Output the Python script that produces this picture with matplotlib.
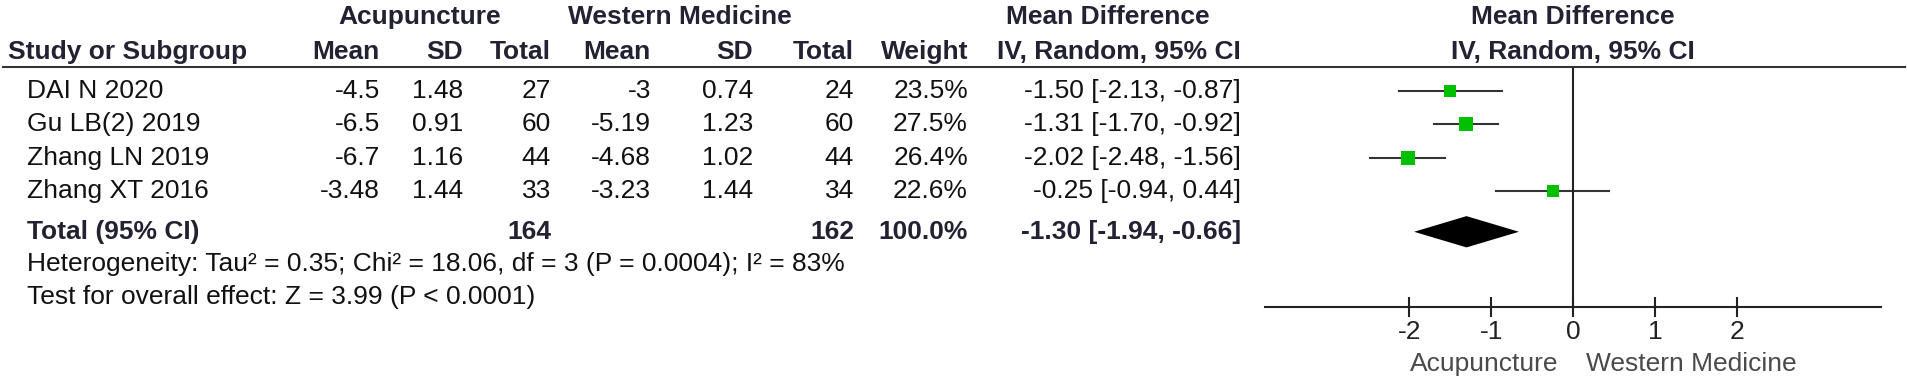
import matplotlib
matplotlib.use("Agg")
import matplotlib.pyplot as plt
from matplotlib.lines import Line2D
from matplotlib.transforms import blended_transform_factory

plt.rcParams["font.family"] = ["Liberation Sans Narrow", "Liberation Sans", "DejaVu Sans"]
plt.rcParams["axes.unicode_minus"] = False

# data
studies = ["DAI N 2020", "Gu LB(2) 2019", "Zhang LN 2019", "Zhang XT 2016"]
acu_mean = ["-4.5", "-6.5", "-6.7", "-3.48"]
acu_sd = ["1.48", "0.91", "1.16", "1.44"]
acu_total = [27, 60, 44, 33]
wm_mean = ["-3", "-5.19", "-4.68", "-3.23"]
wm_sd = ["0.74", "1.23", "1.02", "1.44"]
wm_total = [24, 60, 44, 34]
weight = [23.5, 27.5, 26.4, 22.6]
md = [-1.50, -1.31, -2.02, -0.25]
ci_low = [-2.13, -1.70, -2.48, -0.94]
ci_high = [-0.87, -0.92, -1.56, 0.44]

total_acu = 164
total_wm = 162
total_md = -1.30
total_low = -1.94
total_high = -0.66

heterogeneity = "Heterogeneity: Tau² = 0.35; Chi² = 18.06, df = 3 (P = 0.0004); I² = 83%"
overall = "Test for overall effect: Z = 3.99 (P < 0.0001)"
ticks = [-2, -1, 0, 1, 2]

W, H = 1908, 385
FS = 19
HEAD = "#222233"

fig = plt.figure(figsize=(W / 100, H / 100), dpi=100)


def fx(x):
    return x / W


def fy(y):
    return 1 - y / H


# forest panel: zero at x=1573px, ~82px per unit
ax = fig.add_axes([fx(1265), fy(307), fx(1881) - fx(1265), fy(67) - fy(307)])
ax.set_xlim(-3.76, 3.76)
ax.set_ylim(6.49, -0.72)
total_row = 4.23

for i in range(len(studies)):
    ax.plot([ci_low[i], ci_high[i]], [i, i], color="#333333", lw=1.5, zorder=2)
    ax.plot(md[i], i, marker="s", color="#00c000", markersize=weight[i] * 0.5 * 0.72,
            markeredgewidth=0, zorder=3)

ax.fill([total_low, total_md, total_high, total_md],
        [total_row, total_row - 0.47, total_row, total_row + 0.47], color="black", lw=0)
ax.axvline(0, color="#222222", lw=1.5)

for s in ["top", "right", "left"]:
    ax.spines[s].set_visible(False)
ax.spines["bottom"].set_linewidth(1.5)
ax.spines["bottom"].set_color("#222222")
ax.set_yticks([])
ax.set_xticks(ticks)
ax.tick_params(axis="x", direction="inout", length=14, width=1.5, color="#222222",
               labelsize=FS, pad=2.5, labelcolor="#222222")
ax.patch.set_visible(False)

# header line across the figure
fig.add_artist(Line2D([fx(3), fx(1905)], [fy(67), fy(67)], color="#333333", lw=1.5))

# headers
bold = dict(fontsize=FS, fontweight="bold", color=HEAD, va="center")
fig.text(fx(420), fy(17), "Acupuncture", ha="center", **bold)
fig.text(fx(680), fy(17), "Western Medicine", ha="center", **bold)
fig.text(fx(1108), fy(17), "Mean Difference", ha="center", **bold)
fig.text(fx(1573), fy(17), "Mean Difference", ha="center", **bold)

fig.text(fx(8), fy(52), "Study or Subgroup", ha="left", **bold)
col_right = [380, 463, 551, 651, 753, 854, 968]
heads = ["Mean", "SD", "Total", "Mean", "SD", "Total", "Weight"]
for x, h in zip(col_right, heads):
    fig.text(fx(x), fy(52), h, ha="right", **bold)
fig.text(fx(1241), fy(52), "IV, Random, 95% CI", ha="right", **bold)
fig.text(fx(1573), fy(52), "IV, Random, 95% CI", ha="center", **bold)

# table rows aligned to forest rows
tr = blended_transform_factory(fig.transFigure, ax.transData)
norm = dict(fontsize=FS, color="#111111", va="center", transform=tr)
for i, name in enumerate(studies):
    fig.text(fx(27), i, name, ha="left", **norm)
    vals = [acu_mean[i], acu_sd[i], str(acu_total[i]), wm_mean[i], wm_sd[i],
            str(wm_total[i]), f"{weight[i]:.1f}%"]
    for x, v in zip(col_right, vals):
        fig.text(fx(x), i, v, ha="right", **norm)
    fig.text(fx(1241), i, f"{md[i]:.2f} [{ci_low[i]:.2f}, {ci_high[i]:.2f}]", ha="right", **norm)

tb = dict(fontsize=FS, color=HEAD, va="center", fontweight="bold", transform=tr)
fig.text(fx(27), total_row, "Total (95% CI)", ha="left", **tb)
fig.text(fx(col_right[2]), total_row, str(total_acu), ha="right", **tb)
fig.text(fx(col_right[5]), total_row, str(total_wm), ha="right", **tb)
fig.text(fx(col_right[6]), total_row, f"{sum(weight):.1f}%", ha="right", **tb)
fig.text(fx(1241), total_row, f"{total_md:.2f} [{total_low:.2f}, {total_high:.2f}]", ha="right", **tb)

fig.text(fx(27), fy(264), heterogeneity, ha="left", fontsize=FS, color="#111111", va="center")
fig.text(fx(27), fy(297), overall, ha="left", fontsize=FS, color="#111111", va="center")

# favours labels
fig.text(fx(1558), fy(364), "Acupuncture", ha="right", va="center", fontsize=FS, color="#4a4a4a")
fig.text(fx(1586), fy(364), "Western Medicine", ha="left", va="center", fontsize=FS, color="#4a4a4a")

fig.savefig("out.png", dpi=100)
